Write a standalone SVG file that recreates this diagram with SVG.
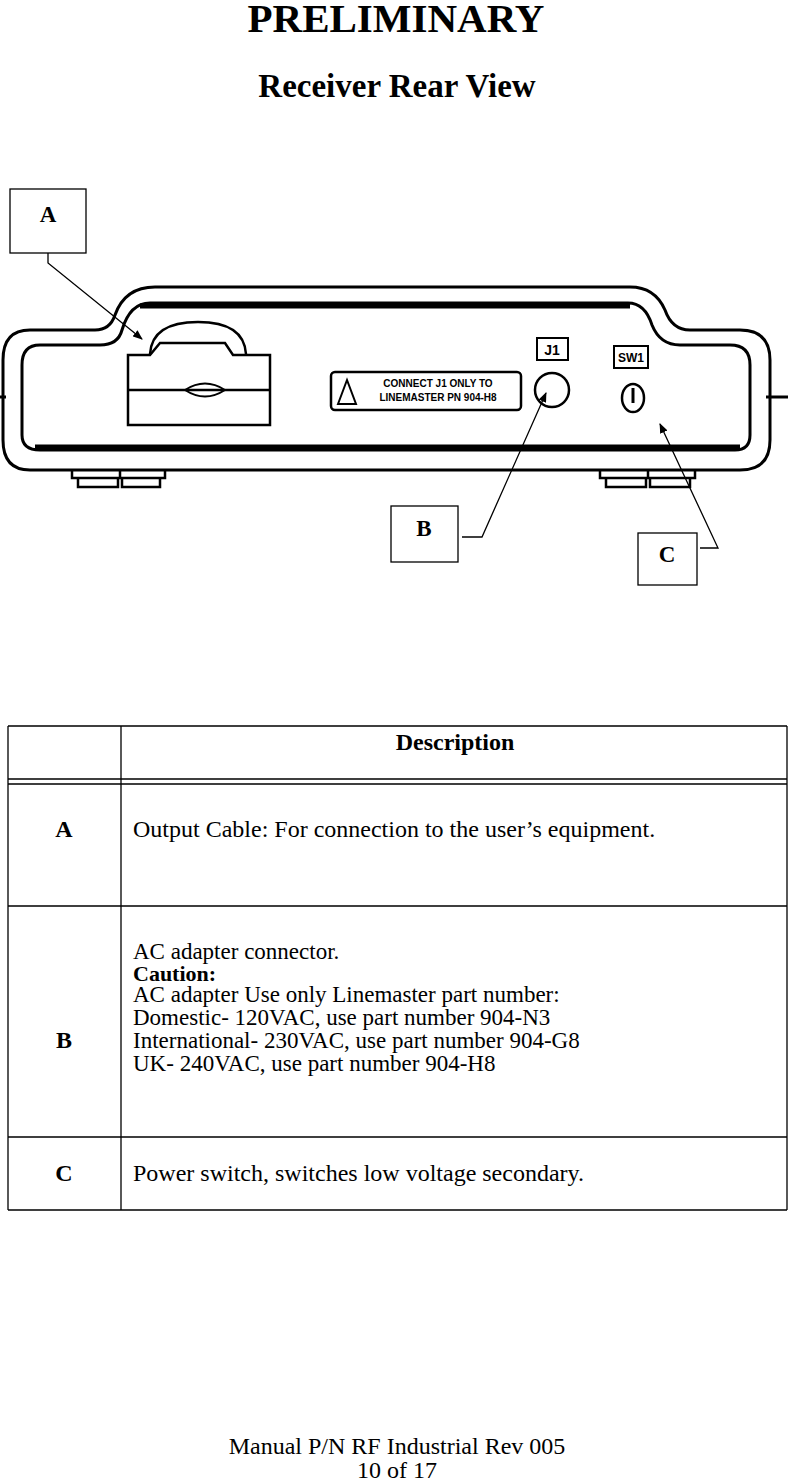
<svg xmlns="http://www.w3.org/2000/svg" width="788" height="1484" viewBox="0 0 788 1484">
<style>
.t{font-family:"Liberation Serif",serif;fill:#000}
.b{font-weight:bold}
.s{font-family:"Liberation Sans",sans-serif;font-weight:bold;fill:#000}
.ln{stroke:#000;stroke-width:1.3;fill:none}
.dv{stroke:#000;fill:none}
</style>
<defs><marker id="ar" markerWidth="10" markerHeight="8" refX="9" refY="4" orient="auto" markerUnits="userSpaceOnUse"><path d="M0,0 L10,4 L0,8 Z" fill="#000"/></marker></defs>
<rect width="788" height="1484" fill="#fff"/>
<text class="t b" x="396" y="32" font-size="41" text-anchor="middle">PRELIMINARY</text>
<text class="t b" x="397" y="97" font-size="33" text-anchor="middle">Receiver Rear View</text>
<g id="device">
<path class="dv" stroke-width="3" d="M30,330 H95 Q110,330 115,315 Q125,287 155,287 H630 Q655,287 665,310 Q672,330 690,330 H740 Q770,330 770,360 V440 Q770,470 740,470 H30 Q3,470 3,440 V360 Q3,330 30,330 Z"/>
<path class="dv" stroke-width="3" d="M40,345 H100 Q118,345 122,330 Q130,303 150,303 H628 Q645,303 652,325 Q660,345 680,345 H730 Q750,345 750,365 V435 Q750,450 735,450 H40 Q22,450 22,435 V365 Q22,345 40,345 Z"/>
<line class="dv" stroke-width="5" x1="140" y1="306" x2="630" y2="306"/>
<line class="dv" stroke-width="5" x1="35" y1="447" x2="740" y2="447"/>
<line class="dv" stroke-width="3" x1="0" y1="397" x2="6" y2="397"/>
<line class="dv" stroke-width="3" x1="766" y1="397" x2="788" y2="397"/>
<path class="dv" stroke-width="2.5" d="M72,470 V478 H120 V470 M120,478 H165 V470 M78,478 V487 H118 V478 M122,478 V487 H160 V478"/>
<path class="dv" stroke-width="2.5" d="M600,470 V478 H648 V470 M648,478 H695 V470 M606,478 V487 H646 V478 M650,478 V487 H690 V478"/>
<path class="dv" stroke-width="2.5" d="M128,425 V355 H150 L160,343 H225 L233,355 H270 V425 Z M128,390 H270"/>
<path class="dv" stroke-width="2.5" d="M150,354 Q152,322 198,322 Q244,322 246,354"/>
<path class="dv" stroke-width="2" d="M185,390 Q205,377 225,390 Q205,403 185,390 Z"/>
<rect x="331" y="372" width="190" height="38" rx="4" class="dv" stroke-width="2.5"/>
<path d="M338,404 L347,380 L356,404 Z" class="dv" stroke-width="2"/>
<text class="s" x="438" y="387" font-size="10" text-anchor="middle">CONNECT J1 ONLY TO</text>
<text class="s" x="438" y="401" font-size="10" text-anchor="middle">LINEMASTER PN 904-H8</text>
<rect x="537" y="338" width="31" height="22" class="dv" stroke-width="2"/>
<text class="s" x="552" y="355" font-size="14" text-anchor="middle">J1</text>
<circle cx="552" cy="390" r="17" class="dv" stroke-width="2.5"/>
<rect x="614" y="346" width="34" height="22" class="dv" stroke-width="2"/>
<text class="s" x="631" y="362" font-size="12" text-anchor="middle">SW1</text>
<ellipse cx="633" cy="398" rx="11" ry="14" class="dv" stroke-width="2.5"/>
<path d="M633,388 V403" class="dv" stroke-width="3"/>
</g>
<g id="callA"><rect x="10" y="189" width="76" height="64" class="ln"/><text class="t b" x="48" y="222" font-size="23" text-anchor="middle">A</text></g>
<g id="callB"><rect x="391" y="506" width="67" height="56" class="ln"/><text class="t b" x="424" y="536" font-size="23" text-anchor="middle">B</text></g>
<g id="callC"><rect x="638" y="533" width="59" height="52" class="ln"/><text class="t b" x="667" y="562" font-size="23" text-anchor="middle">C</text></g>
<g id="connectors">
<polyline class="ln" points="48,253 48,263 142,339" marker-end="url(#ar)"/>
<polyline class="ln" points="462,537 482,537 546,393" marker-end="url(#ar)"/>
<polyline class="ln" points="700,548 718,548 660,424" marker-end="url(#ar)"/>
</g>
<g id="table">
<path class="ln" d="M8,726 H787 M8,779 H787 M8,784 H787 M8,906 H787 M8,1137 H787 M8,1210 H787 M8,726 V1210 M121,726 V1210 M787,726 V1210"/>
<text class="t b" x="455" y="750" font-size="24" text-anchor="middle">Description</text>
<text class="t b" x="64" y="837" font-size="24" text-anchor="middle">A</text>
<text class="t" x="133" y="837" font-size="24">Output Cable: For connection to the user’s equipment.</text>
<text class="t b" x="64" y="1048" font-size="24" text-anchor="middle">B</text>
<text class="t" x="133" y="959" font-size="23">AC adapter connector.</text>
<text class="t b" x="133" y="981" font-size="22">Caution:</text>
<text class="t" x="133" y="1002" font-size="23">AC adapter Use only Linemaster part number:</text>
<text class="t" x="133" y="1025" font-size="23">Domestic- 120VAC, use part number 904-N3</text>
<text class="t" x="133" y="1048" font-size="23">International- 230VAC, use part number 904-G8</text>
<text class="t" x="133" y="1071" font-size="23">UK- 240VAC, use part number 904-H8</text>
<text class="t b" x="64" y="1181" font-size="24" text-anchor="middle">C</text>
<text class="t" x="133" y="1181" font-size="24">Power switch, switches low voltage secondary.</text>
</g>
<text class="t" x="397" y="1454" font-size="24" text-anchor="middle">Manual P/N RF Industrial Rev 005</text>
<text class="t" x="397" y="1478" font-size="24" text-anchor="middle">10 of 17</text>
</svg>
